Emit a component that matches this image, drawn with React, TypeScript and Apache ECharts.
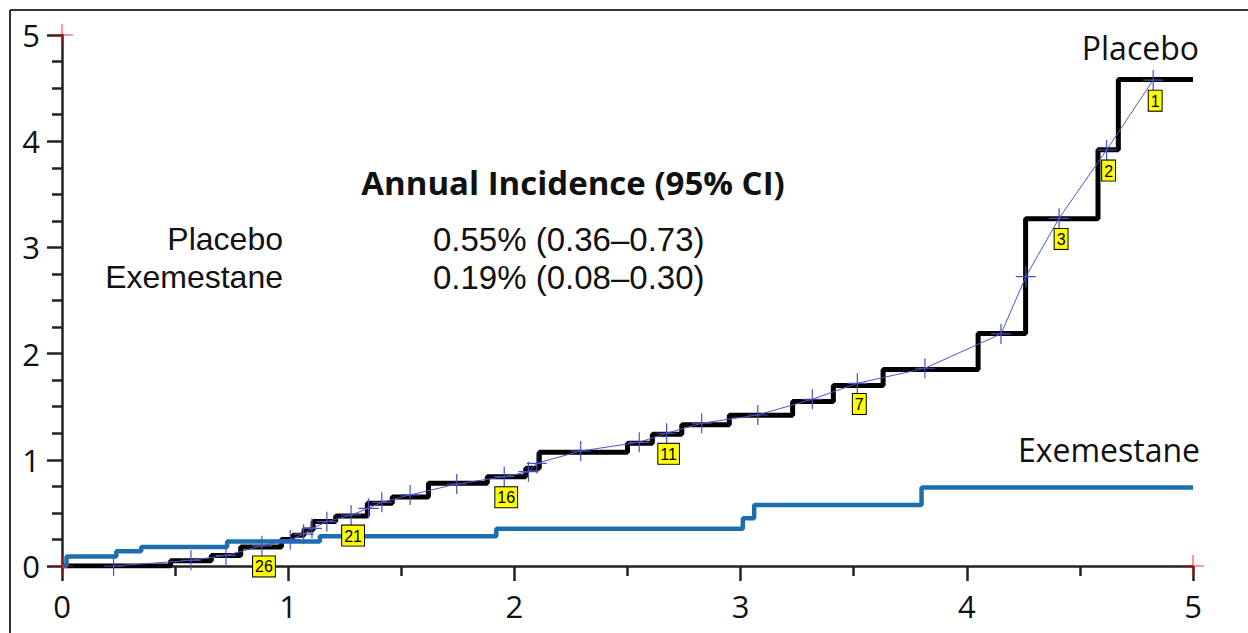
import React, { useEffect, useRef } from "react";
import * as echarts from "echarts";

// Kaplan-Meier style cumulative incidence (%), steps: [time (years), level after the step]
const placeboSteps: [number, number][] = [
  [0, 0], [0.48, 0.05], [0.66, 0.1], [0.79, 0.18], [0.97, 0.25], [1.02, 0.29],
  [1.07, 0.34], [1.11, 0.42], [1.21, 0.47], [1.35, 0.59], [1.46, 0.65],
  [1.62, 0.78], [1.88, 0.84], [2.05, 0.92], [2.11, 1.07], [2.5, 1.155],
  [2.61, 1.24], [2.74, 1.33], [2.95, 1.42], [3.23, 1.55], [3.41, 1.7],
  [3.63, 1.85], [4.05, 2.19], [4.26, 3.27], [4.58, 3.92], [4.67, 4.58], [5.0, 4.58],
];

const exemestaneSteps: [number, number][] = [
  [0, 0], [0.02, 0.09], [0.24, 0.14], [0.35, 0.18], [0.73, 0.23], [1.14, 0.28],
  [1.92, 0.35], [3.01, 0.45], [3.06, 0.575], [3.8, 0.74], [5.0, 0.74],
];

const digitizedPoints: [number, number][] = [
  [4.824, 4.576], [4.618, 3.917], [4.408, 3.274], [4.261, 2.724], [4.151, 2.185],
  [3.815, 1.862], [3.516, 1.72], [3.317, 1.57], [3.076, 1.422], [2.828, 1.344],
  [2.673, 1.25], [2.552, 1.165], [2.293, 1.083], [2.099, 0.967], [2.062, 0.888],
  [1.955, 0.841], [1.745, 0.772], [1.539, 0.669], [1.414, 0.6], [1.355, 0.543],
  [1.278, 0.48], [1.171, 0.417], [1.105, 0.355], [1.068, 0.3], [1.009, 0.248],
  [0.884, 0.19], [0.725, 0.1], [0.57, 0.053], [0.228, 0.0],
];
const labeledPointNumbers = [1, 2, 3, 7, 11, 16, 21, 26];

const calibrationPoints: [number, number][] = [[0, 0], [0, 5], [5, 0]];

const seriesNames = ["Placebo", "Exemestane"];
const incidenceTitle = "Annual Incidence (95% CI)";
const incidenceValues = ["0.55% (0.36–0.73)", "0.19% (0.08–0.30)"];

const FONT = "'Open Sans', 'DejaVu Sans', sans-serif";
const FONT_ROWS = "'Liberation Sans', Arial, sans-serif";
const CROSS = "path://M10,0L10,20M0,10L20,10";

function txt(text: string, x: number, y: number, align: string, size: number, weight = "normal", family = FONT) {
  return {
    type: "text",
    x,
    y,
    z: 50,
    style: {
      text,
      fill: "#111",
      fontSize: size,
      fontFamily: family,
      fontWeight: weight,
      lineHeight: size - 2,
      align,
      verticalAlign: "middle",
      textAlign: align,
      textVerticalAlign: "middle",
    },
  };
}

export default function App() {
  const ref = useRef<HTMLDivElement>(null);

  useEffect(() => {
    if (!ref.current) return;
    const chart = echarts.init(ref.current, null, { renderer: "svg" });

    const axisCommon = {
      type: "value",
      min: 0,
      max: 5,
      interval: 1,
      splitLine: { show: false },
      axisLine: { show: true, onZero: false, lineStyle: { color: "#222", width: 2.5 } },
      axisTick: { show: true, inside: false, length: 15, lineStyle: { color: "#222", width: 2.5 } },
      axisLabel: { color: "#111", fontSize: 31, fontFamily: FONT },
    };

    chart.setOption({
      animation: false,
      backgroundColor: "#fff",
      grid: { left: 62, right: 55, top: 35, bottom: 67, containLabel: false },
      xAxis: {
        ...axisCommon,
        minorTick: { show: true, splitNumber: 2, length: 10, lineStyle: { color: "#222", width: 2.5 } },
        axisLabel: { ...axisCommon.axisLabel, margin: 24 },
      },
      yAxis: {
        ...axisCommon,
        minorTick: { show: true, splitNumber: 4, length: 10, lineStyle: { color: "#222", width: 2.5 } },
        axisLabel: { ...axisCommon.axisLabel, margin: 22 },
      },
      series: [
        {
          name: seriesNames[0],
          type: "line",
          step: "end",
          data: placeboSteps,
          showSymbol: false,
          lineStyle: { color: "#000", width: 5 },
          z: 2,
        },
        {
          name: seriesNames[1],
          type: "line",
          step: "end",
          data: exemestaneSteps,
          showSymbol: false,
          lineStyle: { color: "#1b6fae", width: 4.5 },
          z: 3,
        },
        {
          name: "digitized",
          type: "line",
          data: digitizedPoints.map((p, i) => {
            const n = i + 1;
            const item: any = { value: p };
            if (labeledPointNumbers.includes(n)) {
              item.label = {
                show: true,
                formatter: String(n),
                position: "bottom",
                distance: 0,
                offset: [2, 0],
                backgroundColor: "#ffff00",
                borderColor: "#000",
                borderWidth: 1,
                padding: [2, 2, 1, 2],
                color: "#000",
                fontSize: 16,
                lineHeight: 17,
                fontFamily: "'Liberation Sans', Arial, sans-serif",
              };
            }
            return item;
          }),
          symbol: CROSS,
          symbolSize: 20,
          showSymbol: true,
          lineStyle: { color: "#5058c4", width: 1 },
          itemStyle: { color: "#5058c4", borderColor: "#4a50c0", borderWidth: 1.2 },
          z: 4,
        },
        {
          name: "calibration",
          type: "scatter",
          data: calibrationPoints,
          symbol: CROSS,
          symbolSize: 22,
          clip: false,
          itemStyle: { color: "#ff0000", borderColor: "#ff0000", borderWidth: 1 },
          z: 5,
        },
      ],
      graphic: [
        { type: "line", z: 60, shape: { x1: 10, y1: 10, x2: 1260, y2: 10 }, style: { stroke: "#333", lineWidth: 2 } },
        { type: "line", z: 60, shape: { x1: 10, y1: 10, x2: 10, y2: 650 }, style: { stroke: "#333", lineWidth: 2 } },
        txt(seriesNames[0], 1199, 47, "right", 32),
        txt(seriesNames[1], 1200, 449, "right", 32),
        txt(incidenceTitle, 573, 182, "center", 33, "bold"),
        txt(seriesNames[0], 283, 239, "right", 32, "normal", FONT_ROWS),
        txt(seriesNames[1], 283, 277, "right", 32, "normal", FONT_ROWS),
        txt(incidenceValues[0], 433, 239, "left", 33, "normal", FONT_ROWS),
        txt(incidenceValues[1], 433, 277, "left", 33, "normal", FONT_ROWS),
      ],
    });

    return () => chart.dispose();
  }, []);

  return (
    <div
      ref={ref}
      style={{ position: "fixed", left: 0, top: 0, width: 1248, height: 633, background: "#fff" }}
    />
  );
}
